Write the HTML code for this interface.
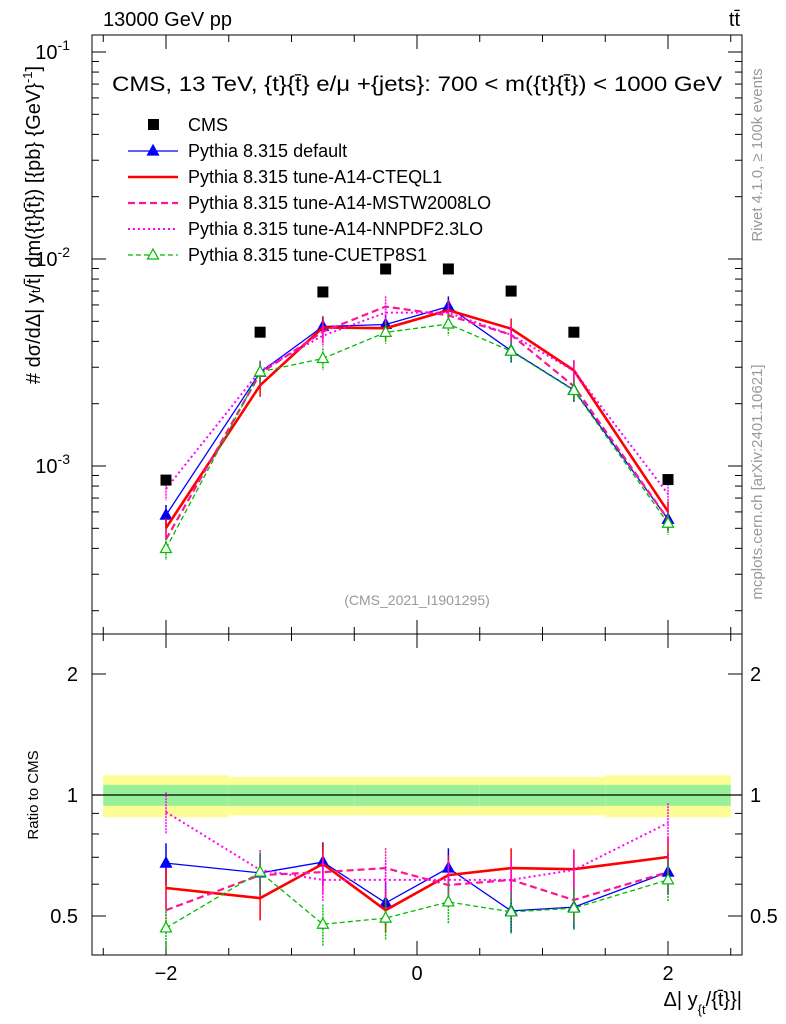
<!DOCTYPE html>
<html><head><meta charset="utf-8"><style>
html,body{margin:0;padding:0;background:#fff;}
svg{display:block;font-family:"Liberation Sans",sans-serif;}
</style></head><body>
<svg id="c" width="786" height="1024" viewBox="0 0 786 1024"></svg>
<script>
const binCenters=[-2,-1.25,-0.75,-0.25,0.25,0.75,1.25,2];
const binEdges=[-2.5,-1.5,-1,-0.5,0,0.5,1,1.5,2.5];
const cmsValues=[8.55e-4,4.43e-3,6.93e-3,8.95e-3,8.95e-3,7.0e-3,4.43e-3,8.6e-4];
const ratioDefault=[0.677,0.640,0.681,0.539,0.658,0.515,0.526,0.643];
const ratioCTEQ=[0.587,0.554,0.674,0.517,0.632,0.658,0.654,0.701];
const ratioMSTW=[0.517,0.632,0.643,0.658,0.597,0.615,0.548,0.643];
const ratioNNPDF=[0.907,0.651,0.615,0.615,0.615,0.615,0.651,0.852];
const ratioCUETP=[0.467,0.643,0.477,0.494,0.542,0.512,0.523,0.615];
const bandInner=[0.06,0.06,0.06,0.06,0.06,0.06,0.06,0.06];
const bandOuter=[0.12,0.11,0.11,0.11,0.11,0.11,0.11,0.12];
const ratioTicks=[2,1,0.5];
const xTicks=[-2,0,2];

const NS="http://www.w3.org/2000/svg";
const svg=document.getElementById('c');
function el(tag,attrs,parent){const e=document.createElementNS(NS,tag);for(const k in attrs)e.setAttribute(k,attrs[k]);(parent||svg).appendChild(e);return e;}
const L=92,R=742,T=35,MB=634,RB=955;
const X=v=>417+v*125.5;
const Ym=v=>466-(Math.log10(v)+3)*207;
const Yr=v=>795-Math.log10(v)*402;

for(let i=0;i<bandOuter.length;i++){
  const x1=X(binEdges[i]),x2=X(binEdges[i+1]);
  const o=el('rect',{x:x1,y:Yr(1+bandOuter[i]),width:x2-x1,height:Yr(1-bandOuter[i])-Yr(1+bandOuter[i]),fill:'#fdfd96'});
  
  const n=el('rect',{x:x1,y:Yr(1+bandInner[i]),width:x2-x1,height:Yr(1-bandInner[i])-Yr(1+bandInner[i]),fill:'#98f098'});
  
}
el('line',{x1:L,x2:R,y1:Yr(1),y2:Yr(1),stroke:'#000','stroke-width':1.2});

const f1=el('rect',{x:L,y:T,width:R-L,height:MB-T,fill:'none',stroke:'#000','stroke-width':1});

const f2=el('rect',{x:L,y:MB,width:R-L,height:RB-MB,fill:'none',stroke:'#000','stroke-width':1});


for(let d=-4;d<=-1;d++){for(let m=1;m<10;m++){const v=m*Math.pow(10,d);const y=Ym(v);if(y<T||y>MB)continue;const len=m===1?14:7;
 el('line',{x1:L,x2:L+len,y1:y,y2:y,stroke:'#000'});el('line',{x1:R,x2:R-len,y1:y,y2:y,stroke:'#000'});}}
[-1,-2,-3].forEach((d,i)=>{const t=el('text',{x:70,y:Ym(Math.pow(10,d))+7,'font-size':20,'text-anchor':'end'});
 
 t.innerHTML='10<tspan dy="-9" font-size="14">'+d+'</tspan>';});
[0.4,0.5,0.6,0.7,0.8,0.9,1,2].forEach(v=>{const y=Yr(v);const len=(v===1||v===0.5||v===2)?14:7;
 el('line',{x1:L,x2:L+len,y1:y,y2:y,stroke:'#000'});el('line',{x1:R,x2:R-len,y1:y,y2:y,stroke:'#000'});});
ratioTicks.forEach(v=>{[[78,'end'],[750,'start']].forEach(p=>{const t=el('text',{x:p[0],y:Yr(v)+7,'font-size':20,'text-anchor':p[1]});
 t.textContent=String(v);});});
for(let v=-2.5;v<=2.51;v+=0.5){const x=X(v);const maj=xTicks.includes(v);const len=maj?14:7;
 [[T,1],[MB,-1],[MB,1],[RB,-1]].forEach(p=>el('line',{x1:x,x2:x,y1:p[0],y2:p[0]+p[1]*len,stroke:'#000'}));}
xTicks.forEach(v=>{const t=el('text',{x:X(v),y:980,'font-size':20,'text-anchor':'middle'});
 t.textContent=v<0?'\u2212'+(-v):String(v);});

const series=[
 {name:'default',r:ratioDefault,color:'#0000ff',w:1.3,dash:'',marker:'tri'},
 {name:'cteql1',r:ratioCTEQ,color:'#ff0000',w:2.6,dash:'',marker:''},
 {name:'mstw2008lo',r:ratioMSTW,color:'#ff1493',w:2.2,dash:'7,4',marker:''},
 {name:'nnpdf23lo',r:ratioNNPDF,color:'#ff00ff',w:2,dash:'2,3',marker:''},
 {name:'cuetp8s1',r:ratioCUETP,color:'#00bb00',w:1.3,dash:'5,3',marker:'otri'}];
function tri(g,x,y,c,open){el('polygon',{points:`${x},${y-6} ${x-5.5},${y+4} ${x+5.5},${y+4}`,fill:open?'#fff':c,stroke:c,'stroke-width':1.2},g);}
series.forEach(s=>{
 const gm=el('g',{});
 const gr=el('g',{});
 const vals=s.r.map((r,i)=>r*cmsValues[i]);
 el('polyline',{points:binCenters.map((c,i)=>X(c)+','+Ym(vals[i])).join(' '),fill:'none',stroke:s.color,'stroke-width':s.w,'stroke-dasharray':s.dash},gm);
 el('polyline',{points:binCenters.map((c,i)=>X(c)+','+Yr(s.r[i])).join(' '),fill:'none',stroke:s.color,'stroke-width':s.w,'stroke-dasharray':s.dash},gr);
 binCenters.forEach((c,i)=>{
  const e=0.12;
  el('line',{x1:X(c),x2:X(c),y1:Ym(vals[i]*(1+e)),y2:Ym(vals[i]*(1-e)),stroke:s.color,'stroke-width':1.5,'stroke-dasharray':s.dash?'2,1':''},gm);
  el('line',{x1:X(c),x2:X(c),y1:Yr(s.r[i]*(1+e)),y2:Yr(s.r[i]*(1-e)),stroke:s.color,'stroke-width':1.5,'stroke-dasharray':s.dash?'2,1':''},gr);
  if(s.marker){tri(gm,X(c),Ym(vals[i]),s.color,s.marker==='otri');tri(gr,X(c),Yr(s.r[i]),s.color,s.marker==='otri');}
 });
});
const gc=el('g',{});
binCenters.forEach((c,i)=>el('rect',{x:X(c)-5.5,y:Ym(cmsValues[i])-5.5,width:11,height:11,fill:'#000'},gc));

function txt(name,x,y,s,size,opts){const t=el('text',Object.assign({x:x,y:y,'font-size':size},opts||{}));t.innerHTML=s;return t;}
txt('header-energy',103,26,'13000 GeV pp',20);
txt('header-process',740,26,'t<tspan>t\u0304</tspan>',20,{'text-anchor':'end'});
txt('plot-title',112,91,'CMS, 13 TeV, {t}{t\u0304} e/\u03bc +{jets}: 700 &lt; m({t}{t\u0304}) &lt; 1000 GeV',21.5,{textLength:610,lengthAdjust:'spacingAndGlyphs'});
txt('analysis-id',417,605,'(CMS_2021_I1901295)',14,{'text-anchor':'middle',fill:'#999'});
txt('x-axis-title',742,1006,'\u0394| y<tspan font-size="13" dy="8">{t</tspan><tspan dy="-8">/{t\u0304}}|</tspan>',20,{'text-anchor':'end'});
txt('ratio-y-title',38,795,'Ratio to CMS',15,{'text-anchor':'middle',transform:'rotate(-90 38 795)'});
txt('y-axis-title',40,225,'# d\u03c3/d\u0394| y<tspan font-size="13">t</tspan>/t\u0304| dm({t}{t\u0304}) [{pb} {GeV}<tspan dy="-8" font-size="13">-1</tspan><tspan dy="8">]</tspan>',20,{'text-anchor':'middle',transform:'rotate(-90 40 225)'});
txt('rivet-label',762,155,'Rivet 4.1.0, \u2265 100k events',15,{'text-anchor':'middle',fill:'#999',transform:'rotate(-90 762 155)'});
txt('mcplots-label',762,482,'mcplots.cern.ch [arXiv:2401.10621]',15,{'text-anchor':'middle',fill:'#999',transform:'rotate(-90 762 482)'});

const leg=[['CMS','sq','#000',''],['Pythia 8.315 default','tri','#0000ff',''],['Pythia 8.315 tune-A14-CTEQL1','','#ff0000',''],
 ['Pythia 8.315 tune-A14-MSTW2008LO','','#ff1493','7,4'],['Pythia 8.315 tune-A14-NNPDF2.3LO','','#ff00ff','2,3'],['Pythia 8.315 tune-CUETP8S1','otri','#00bb00','5,3']];
const lw=[0,1.3,2.6,2.2,2,1.3];
leg.forEach((l,i)=>{const y=125+i*26;const g=el('g',{});
 if(l[1]==='sq')el('rect',{x:148,y:y-6,width:11,height:11,fill:'#000'},g);
 else{el('line',{x1:128,x2:178,y1:y,y2:y,stroke:l[2],'stroke-width':lw[i],'stroke-dasharray':l[3]},g);if(l[1])tri(g,153,y,l[2],l[1]==='otri');}
 const t=el('text',{x:188,y:y+6,'font-size':18},g);t.textContent=l[0];});
</script>
</body></html>
